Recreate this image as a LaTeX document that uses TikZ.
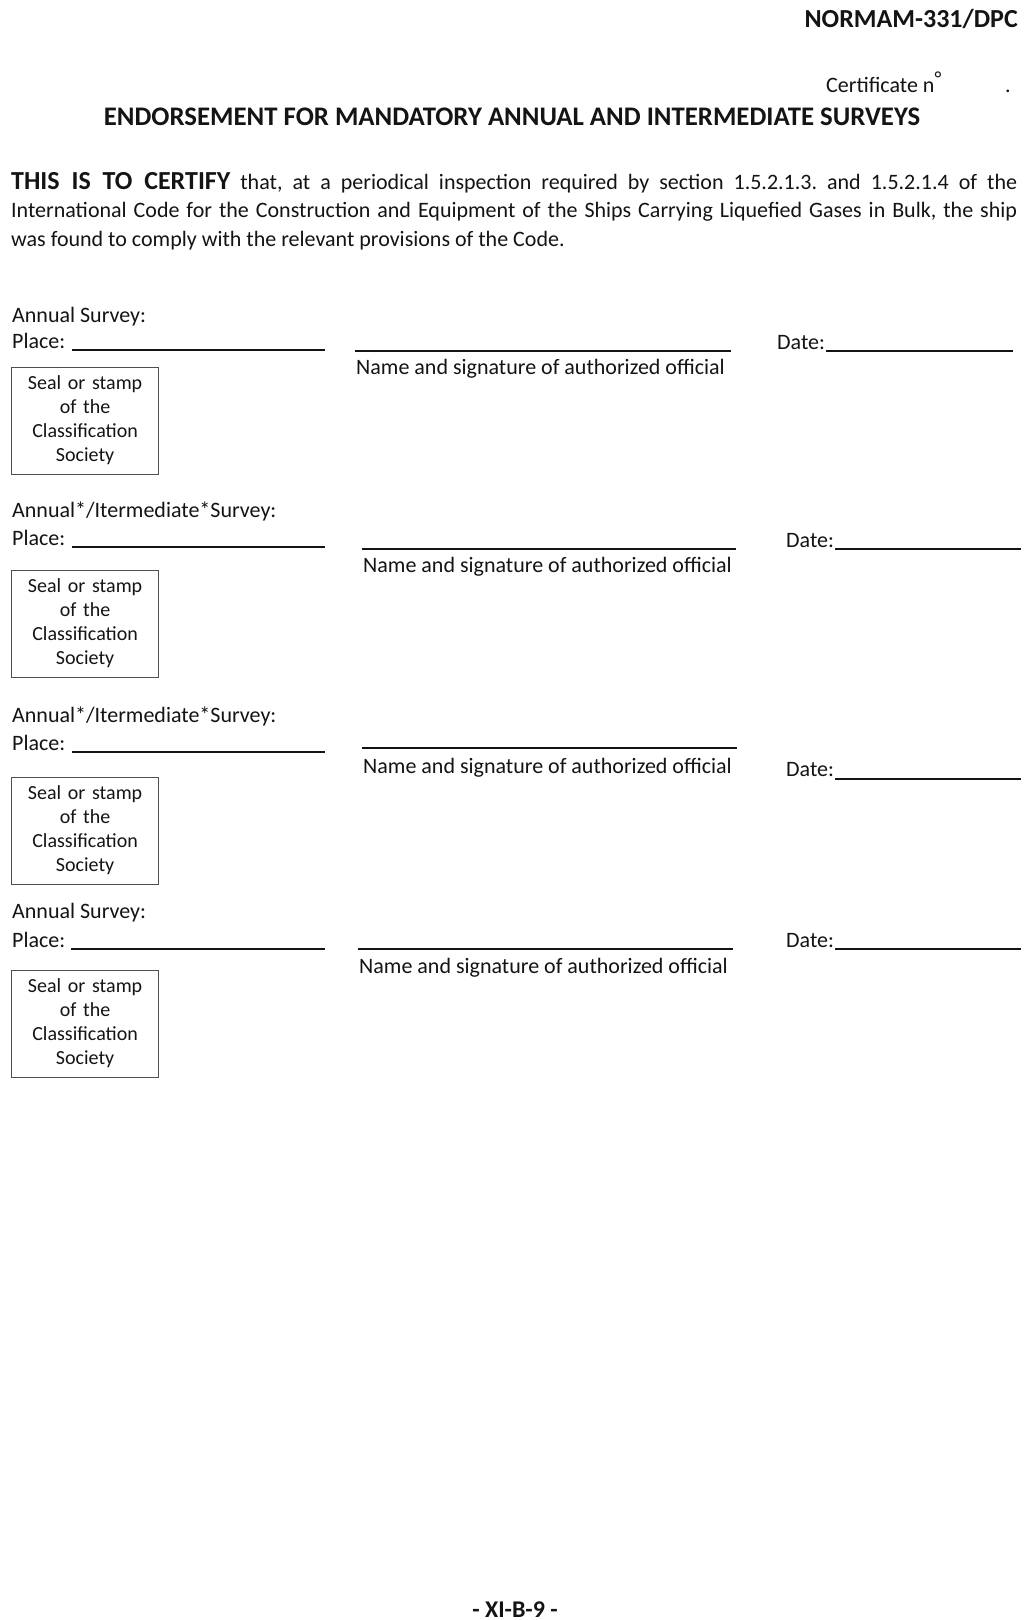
\documentclass[tikz,border=0pt]{standalone}
\usepackage{fontspec}
\setmainfont{Carlito}
\definecolor{ink}{HTML}{141414}
\definecolor{boxgray}{HTML}{505050}
\frenchspacing
\begin{document}
\begin{tikzpicture}[x=1pt,y=-1pt,
  lbl/.style={anchor=base west, inner sep=0pt, font=\fontsize{22}{26.4}\selectfont, text=ink},
  boldtxt/.style={inner sep=0pt, text=ink},
  blank/.style={draw=ink, line width=1.2pt},
  sealbox/.style={draw=boxgray, line width=1.2pt, anchor=north west, minimum width=147pt,
    minimum height=107pt, text width=140pt, align=center, inner sep=0pt,
    font=\fontsize{20}{24}\selectfont, text=ink}]
\fill[white] (0,0) rectangle (1024,1620);
\useasboundingbox (0,0) rectangle (1024,1620);

% header
\node[boldtxt, anchor=base east, font=\fontsize{26}{30}\selectfont\bfseries] (hdr) at (1018,27) {NORMAM-331/DPC};
\node[lbl] (cert) at (826,92) {Certificate n\raisebox{7pt}{\fontsize{20}{20}\selectfont °}};
\node[lbl] (certdot) at (1005,92) {.};
\node[boldtxt, anchor=base, font=\fontsize{26.8}{30}\selectfont\bfseries] (title) at (512,125)
  {ENDORSEMENT FOR MANDATORY ANNUAL AND INTERMEDIATE SURVEYS};

% paragraph
\node[anchor=north west, inner sep=0pt, text width=1006pt, align=justify, text=ink,
  font=\fontsize{22}{28.5}\selectfont] (para) at (11,169)
  {\strut{\fontsize{26}{28.5}\selectfont\bfseries THIS IS TO CERTIFY} that, at a periodical inspection required by section 1.5.2.1.3. and 1.5.2.1.4 of the\linebreak
  International Code for the Construction and Equipment of the Ships Carrying Liquefied Gases in Bulk, the ship\linebreak
  was found to comply with the relevant provisions of the Code.};

% section 1
\node[lbl] (s1head) at (12,322) {Annual Survey:};
\node[lbl] (s1place) at (12,348) {Place:};
\draw[blank] (72,350) -- (325,350);
\draw[blank] (355,351) -- (731,351);
\node[lbl] (s1date) at (777,349) {Date:};
\draw[blank] (826,351) -- (1013,351);
\node[lbl] (s1name) at (356,374) {Name and signature of authorized official};
\node[sealbox] (s1seal) at (11,367) {\strut Seal or stamp\\ of the\\ Classification\\ Society\strut};

% section 2
\node[lbl] (s2head) at (12,517) {Annual*/Itermediate*Survey:};
\node[lbl] (s2place) at (12,545) {Place:};
\draw[blank] (72,547) -- (325,547);
\draw[blank] (362,549) -- (736,549);
\node[lbl] (s2date) at (786,547) {Date:};
\draw[blank] (835,549) -- (1021,549);
\node[lbl] (s2name) at (363,572) {Name and signature of authorized official};
\node[sealbox] (s2seal) at (11,570) {\strut Seal or stamp\\ of the\\ Classification\\ Society\strut};

% section 3
\node[lbl] (s3head) at (12,722) {Annual*/Itermediate*Survey:};
\node[lbl] (s3place) at (12,750) {Place:};
\draw[blank] (72,752) -- (325,752);
\draw[blank] (362,748) -- (737,748);
\node[lbl] (s3name) at (363,773) {Name and signature of authorized official};
\node[lbl] (s3date) at (786,776) {Date:};
\draw[blank] (835,779) -- (1021,779);
\node[sealbox] (s3seal) at (11,777) {\strut Seal or stamp\\ of the\\ Classification\\ Society\strut};

% section 4
\node[lbl] (s4head) at (12,918) {Annual Survey:};
\node[lbl] (s4place) at (12,947) {Place:};
\draw[blank] (71,949) -- (325,949);
\draw[blank] (358,949) -- (733,949);
\node[lbl] (s4date) at (786,947) {Date:};
\draw[blank] (835,949) -- (1021,949);
\node[lbl] (s4name) at (359,973) {Name and signature of authorized official};
\node[sealbox] (s4seal) at (11,970) {\strut Seal or stamp\\ of the\\ Classification\\ Society\strut};

% page number
\node[boldtxt, anchor=base, font=\fontsize{24}{28}\selectfont\bfseries] (pgno) at (515,1617) {- XI-B-9 -};
\end{tikzpicture}
\end{document}
